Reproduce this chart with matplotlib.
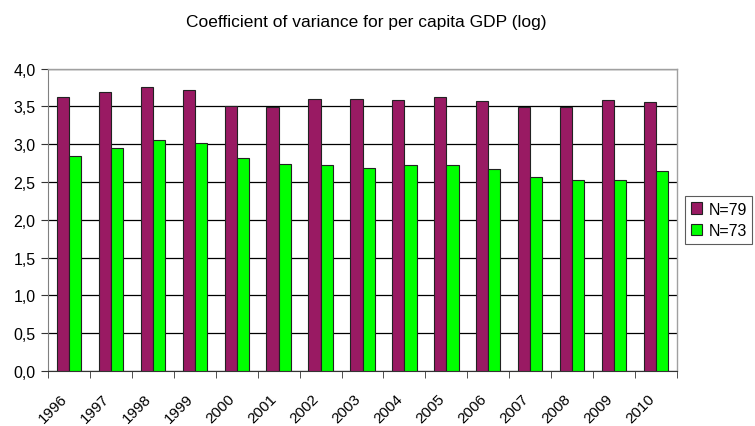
import matplotlib
matplotlib.use("Agg")
import matplotlib.pyplot as plt
import numpy as np
from matplotlib.ticker import FixedLocator, FuncFormatter
from matplotlib.transforms import ScaledTranslation

plt.rcParams['font.family'] = ['Liberation Sans', 'DejaVu Sans']

years = ["1996", "1997", "1998", "1999", "2000", "2001", "2002", "2003",
         "2004", "2005", "2006", "2007", "2008", "2009", "2010"]
n79 = [3.62, 3.69, 3.76, 3.72, 3.50, 3.49, 3.60, 3.60, 3.59, 3.62, 3.57, 3.49, 3.49, 3.58, 3.56]
n73 = [2.85, 2.95, 3.06, 3.01, 2.82, 2.74, 2.72, 2.69, 2.72, 2.72, 2.67, 2.56, 2.53, 2.53, 2.65]

fig = plt.figure(figsize=(7.55, 4.27), dpi=100)
ax = fig.add_axes([0.0636, 0.1288, 0.8331, 0.7082])

x = np.arange(len(years))
w = 0.29
ax.bar(x - w / 2, n79, w, color='#991A63', edgecolor='#222222', linewidth=0.8, label='N=79', zorder=3)
ax.bar(x + w / 2, n73, w, color='#00FF00', edgecolor='#222222', linewidth=0.8, label='N=73', zorder=3)

ax.set_xlim(-0.5, len(years) - 0.5)
ax.set_ylim(0, 4.0)
ax.set_yticks(np.arange(0, 4.01, 0.5))
ax.yaxis.set_major_formatter(FuncFormatter(lambda v, p: f"{v:.1f}".replace('.', ',')))
ax.yaxis.grid(True, color='black', linewidth=0.9, zorder=0)
ax.set_axisbelow(True)

ax.set_xticks(x)
ax.set_xticklabels(years, rotation=45, ha='right', rotation_mode='anchor')
ax.xaxis.set_minor_locator(FixedLocator(np.arange(-0.5, len(years), 1.0)))
ax.tick_params(axis='x', which='major', length=0, pad=8, labelsize=11)
ax.tick_params(axis='x', which='minor', length=5, color='#333333', direction='out')
ax.tick_params(axis='y', length=5, color='#333333', labelsize=11.5, pad=4)

off = ScaledTranslation(-9 / 100, -9 / 100, fig.dpi_scale_trans)
for lab in ax.get_xticklabels():
    lab.set_transform(lab.get_transform() + off)

for s in ['top', 'right']:
    ax.spines[s].set_color('#A0A0A0')
    ax.spines[s].set_linewidth(1.0)
ax.spines['left'].set_color('#808080')
ax.spines['bottom'].set_color('#333333')

fig.suptitle('Coefficient of variance for per capita GDP (log)', x=0.485, y=0.965, fontsize=12.5)

leg = ax.legend(loc='center left', bbox_to_anchor=(1.013, 0.5), frameon=True, fancybox=False,
                edgecolor='#333333', fontsize=11.5, handlelength=0.7, handleheight=0.7,
                handletextpad=0.4, borderpad=0.35, labelspacing=0.4, borderaxespad=0)
leg.get_frame().set_linewidth(0.8)

fig.savefig('out.png', dpi=100)
